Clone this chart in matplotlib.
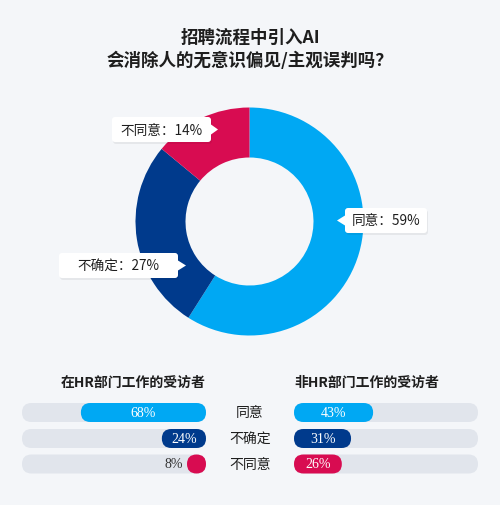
import matplotlib.pyplot as plt
from matplotlib.patches import FancyBboxPatch, Polygon

plt.rcParams['font.family'] = ['Noto Sans CJK SC', 'DejaVu Sans']

title = '招聘流程中引入AI\n会消除人的无意识偏见/主观误判吗？'
answers = ['同意', '不确定', '不同意']
overall = [59, 27, 14]
hr_group = [68, 24, 8]
non_hr_group = [43, 31, 26]
group_titles = ['在HR部门工作的受访者', '非HR部门工作的受访者']

colors = ['#00a8f3', '#003a8c', '#d80c51']
bg = '#f4f6f9'
track = '#e1e5ec'
dark = '#1e1e1e'

W, H = 500, 506
fig = plt.figure(figsize=(W / 100, H / 100), dpi=100, facecolor=bg)

# donut (pixel centre 249.5, 222.5, radius 114)
cx, cy, r = 249.5, 222.5, 114
pie_ax = fig.add_axes([(cx - r) / W, (H - cy - r) / H, 2 * r / W, 2 * r / H])
pie_ax.pie(overall, colors=colors, startangle=90, counterclock=False,
           radius=1, wedgeprops=dict(width=50 / 114, linewidth=0))
pie_ax.set_xlim(-1, 1)
pie_ax.set_ylim(-1, 1)
pie_ax.axis('off')

# overlay in pixel coordinates
ax = fig.add_axes([0, 0, 1, 1], zorder=2)
ax.set_xlim(0, W)
ax.set_ylim(H, 0)
ax.axis('off')
ax.patch.set_alpha(0)

ax.text(250, 49.5, title, ha='center', va='center', fontsize=12.6,
        fontweight='heavy', color=dark, linespacing=1.35)


def callout(x0, x1, y0, y1, tip, side, text):
    sh = FancyBboxPatch((x0 + 1, y0 + 2), x1 - x0, y1 - y0,
                        boxstyle='round,pad=0,rounding_size=3',
                        fc='#000000', ec='none', alpha=0.06, zorder=3)
    ax.add_patch(sh)
    box = FancyBboxPatch((x0, y0), x1 - x0, y1 - y0,
                         boxstyle='round,pad=0,rounding_size=3',
                         fc='white', ec='none', zorder=4)
    ax.add_patch(box)
    ym = (y0 + y1) / 2
    bx = x0 if side == 'left' else x1
    ax.add_patch(Polygon([(bx, ym - 5), (tip, ym), (bx, ym + 5)],
                         closed=True, fc='white', ec='none', zorder=4))
    ax.text((x0 + x1) / 2, ym, text, ha='center', va='center',
            fontsize=9.8, color=dark, zorder=5)


callout(345, 427, 209, 234, 337, 'left', f'{answers[0]}：{overall[0]}%')
callout(59, 178, 254, 279, 186, 'right', f'{answers[1]}：{overall[1]}%')
callout(112, 211, 118, 143, 218, 'right', f'{answers[2]}：{overall[2]}%')

# group bars
ax.text(133, 383, group_titles[0], ha='center', va='center', fontsize=10,
        fontweight='heavy', color=dark)
ax.text(367, 383, group_titles[1], ha='center', va='center', fontsize=10,
        fontweight='heavy', color=dark)

row_y = [413.5, 439.5, 465]
bh = 19
lx0, lx1 = 22, 206
rx0, rx1 = 294, 478
tw = lx1 - lx0


def rbar(x, y, w, color, z):
    ax.add_patch(FancyBboxPatch((x, y - bh / 2), w, bh,
                                boxstyle=f'round,pad=0,rounding_size={bh / 2}',
                                fc=color, ec='none', zorder=z))


for i, ans in enumerate(answers):
    y = row_y[i]
    rbar(lx0, y, tw, track, 3)
    rbar(rx0, y, tw, track, 3)
    # left: grows from right edge
    w = max(tw * hr_group[i] / 100, bh)
    rbar(lx1 - w, y, w, colors[i], 4)
    if w > 30:
        ax.text(lx1 - w / 2, y, f'{hr_group[i]}%', ha='center', va='center',
                fontsize=10, color='white', family='Liberation Serif', zorder=5)
    else:
        ax.text(lx1 - w - 4, y, f'{hr_group[i]}%', ha='right', va='center',
                fontsize=10, color='#333333', family='Liberation Serif', zorder=5)
    # right: grows from left edge
    w = max(tw * non_hr_group[i] / 100, bh)
    rbar(rx0, y, w, colors[i], 4)
    ax.text(rx0 + w / 2, y, f'{non_hr_group[i]}%', ha='center', va='center',
            fontsize=10, color='white', family='Liberation Serif', zorder=5)
    ax.text(250, y, ans, ha='center', va='center', fontsize=10, color=dark)

fig.savefig('out.png', dpi=100, facecolor=bg)
